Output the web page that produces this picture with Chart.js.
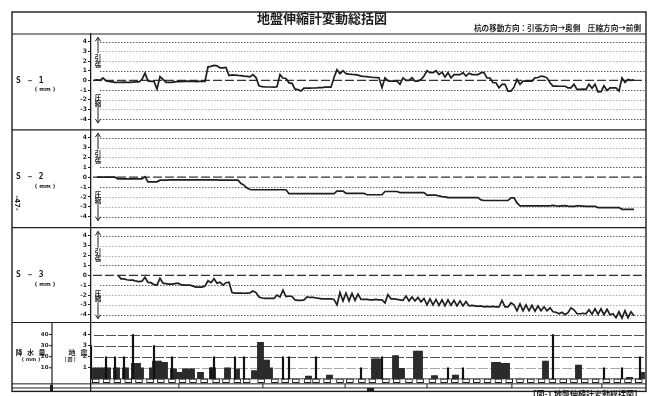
<!DOCTYPE html>
<html>
<head>
<meta charset="utf-8">
<script src="https://cdn.jsdelivr.net/npm/chart.js@4.4.1/dist/chart.umd.min.js"></script>
<style>
  html, body { margin: 0; padding: 0; background: #fff; }
  #wrap { position: relative; width: 651px; height: 396px; }
  canvas { display: block; }
</style>
</head>
<body>
<div id="wrap"><canvas id="c" width="651" height="396"></canvas></div>
<script>
// ---- observation days (x axis, one sample per day) ----
const DAY_COUNT = 185;
const DAYS = Array.from({ length: DAY_COUNT }, (_, i) => i);

// ---- tick labels ----
const S_TICKS = [4, 3, 2, 1, 0, -1, -2, -3, -4];
const QUAKE_TICKS = [4, 3, 2, 1];
const RAIN_TICKS = [40, 30, 20, 10];

// ---- extensometer S-1 (mm) ----
const S1 = [
  null, 0, 0.05, 0, 0.25, -0.05, -0.1, -0.15, -0.2, -0.2,
  -0.2, -0.18, -0.2, -0.2, -0.17, -0.15, -0.15, 0.1, 0.75, -0.05,
  -0.1, -0.1, -0.9, 0.4, 0.1, -0.2, -0.2, -0.2, -0.15, -0.1,
  -0.12, -0.1, -0.08, -0.1, -0.1, -0.12, -0.1, -0.1, -0.1, 1.4,
  1.45, 1.55, 1.5, 1.3, 1.3, 1.35, 0.5, 0.58, 0.55, 0.52,
  0.5, 0.45, 0.42, 0.38, 0.6, 0.3, -0.55, -0.65, -0.68, -0.68,
  -0.68, -0.7, -0.65, 0.6, 0.25, 0.2, -0.25, -0.3, -0.9, -0.95,
  -1.1, -0.8, -0.8, -0.8, -0.78, -0.78, -0.75, -0.75, -0.7, -0.7,
  -0.7, 0.3, 1.1, 0.7, 1.0, 0.7, 0.65, 0.62, 0.6, 0.55,
  0.45, 0.42, 0.4, 0.35, 0.3, 0.3, 0.27, -0.75, 0.27, -0.05,
  -0.07, -0.07, -0.07, -0.4, 0.27, 0, 0, 0.27, -0.07, -0.07,
  0.1, 0.45, 1.0, 0.8, 0.8, 1.0, 0.6, 0.85, 0.35, 0.8,
  0.27, 0.6, 0.6, 0.6, 0.8, 0.45, 0.75, 0.6, 0.6, 0.6,
  0.8, 0.8, 0.27, 0.25, -0.24, -0.24, -0.76, -0.4, -0.4, -1.1,
  -1.1, -0.7, 0.1, -0.4, -0.07, -0.07, -0.07, -0.07, 0.27, 0.3,
  0.45, 0.4, 0.27, -0.24, -0.58, -0.58, -0.6, -0.6, -0.6, -0.76,
  -0.76, -0.4, -0.93, -0.93, -0.9, -0.93, -0.4, -0.82, -0.4, -1.17,
  -1.15, -0.55, -1.03, -0.76, -0.76, -0.76, -1.1, 0.27, -0.2, 0.1,
  0, 0.05, null, null, null
];

// ---- extensometer S-2 (mm) ----
const S2 = [
  null, null, 0, 0, 0, 0, 0, 0, 0, -0.18,
  -0.18, -0.18, -0.18, -0.18, -0.18, -0.18, -0.18, -0.18, 0.05, -0.47,
  -0.47, -0.47, -0.47, -0.3, -0.29, -0.29, -0.28, -0.28, -0.28, -0.28,
  -0.28, -0.28, -0.27, -0.27, -0.27, -0.28, -0.28, -0.28, -0.28, -0.28,
  -0.28, -0.28, -0.28, -0.29, -0.29, -0.29, -0.29, -0.29, -0.3, -0.3,
  -0.65, -0.8, -1.1, -1.25, -1.27, -1.27, -1.27, -1.27, -1.27, -1.27,
  -1.27, -1.27, -1.27, -1.27, -1.27, -1.27, -1.67, -1.67, -1.67, -1.67,
  -1.67, -1.67, -1.67, -1.67, -1.67, -1.67, -1.67, -1.67, -1.67, -1.67,
  -1.67, -1.67, -1.41, -1.41, -1.41, -1.63, -1.63, -1.63, -1.63, -1.63,
  -1.63, -1.63, -1.78, -1.78, -1.78, -1.78, -1.78, -1.78, -1.45, -1.45,
  -1.45, -1.45, -1.45, -1.56, -1.56, -1.56, -1.56, -1.56, -1.56, -1.56,
  -1.56, -1.56, -1.81, -1.81, -1.81, -1.81, -1.9, -1.96, -2.0, -2.07,
  -2.07, -2.07, -2.07, -2.07, -2.07, -2.07, -2.07, -2.07, -2.07, -2.07,
  -2.3, -2.36, -2.36, -2.36, -2.36, -2.36, -2.36, -2.36, -2.36, -2.36,
  -2.1, -2.1, -2.6, -2.9, -2.9, -2.9, -2.9, -2.9, -2.9, -2.9,
  -2.9, -2.9, -2.9, -2.9, -2.85, -2.9, -2.92, -2.9, -2.88, -2.92,
  -2.95, -2.95, -2.9, -2.9, -2.92, -2.95, -2.95, -2.95, -2.95, -3.08,
  -3.08, -3.08, -3.08, -3.08, -3.08, -3.08, -3.08, -3.25, -3.25, -3.25,
  -3.25, -3.25, null, null, null
];

// ---- extensometer S-3 (mm) ----
const S3 = [
  null, null, null, null, null, null, null, null, null, 0,
  -0.36, -0.36, -0.45, -0.5, -0.5, -0.6, -0.65, -0.6, -0.2, -0.72,
  -0.75, -0.95, -1.0, -0.3, -0.8, -0.85, -0.9, -0.9, -0.85, -0.8,
  -0.95, -1.0, -1.0, -1.0, -1.1, -1.2, -1.2, -1.2, -1.1, -0.55,
  -0.75, -0.35, -0.8, -0.7, -1.0, -0.75, -0.7, -1.75, -1.8, -1.8,
  -1.8, -1.82, -1.8, -1.78, -1.6, -1.75, -2.2, -2.3, -2.35, -2.35,
  -2.35, -2.35, -2.0, -2.2, -1.5, -2.15, -2.1, -2.15, -2.5, -2.55,
  -2.55, -2.5, -2.2, -2.25, -2.25, -2.3, -2.35, -2.4, -2.4, -2.4,
  -2.4, -2.45, -3.0, -1.75, -2.6, -1.8, -2.6, -1.85, -2.55, -1.9,
  -2.45, -2.45, -2.45, -2.5, -2.5, -2.45, -2.5, -2.5, -2.8, -1.95,
  -2.4, -2.4, -2.45, -2.5, -2.55, -2.1, -2.6, -2.2, -2.6, -2.25,
  -2.7, -2.35, -3.0, -2.4, -3.0, -2.45, -3.05, -2.5, -3.1, -2.5,
  -3.05, -2.55, -3.1, -2.6, -3.1, -2.65, -3.1, -3.05, -3.1, -3.15,
  -3.1, -3.2, -3.15, -3.2, -3.15, -3.2, -3.2, -2.55, -3.2, -3.2,
  -2.8, -3.0, -3.6, -2.9, -3.6, -3.0, -3.6, -3.05, -3.65, -3.1,
  -3.6, -3.2, -3.6, -3.3, -3.7, -3.75, -3.9, -3.75, -4.0, -3.8,
  -3.3, -3.5, -3.9, -3.9, -3.85, -3.9, -3.5, -3.95, -3.4, -3.95,
  -3.4, -4.0, -3.45, -4.0, -3.9, -4.3, -3.7, -4.35, -3.6, -4.3,
  -3.7, -4.1, null, null, null
];

// ---- daily precipitation (mm) ----
const RAIN = [
  0, 10, 10, 10, 10, 10, 10, 0, 10, 10,
  0, 10, 10, 0, 14, 14, 14, 10, 0, 0,
  10, 16, 16, 16, 15, 15, 0, 9, 9, 6,
  6, 9, 9, 9, 9, 0, 6, 6, 0, 0,
  10, 10, 0, 0, 0, 10, 10, 0, 0, 9,
  0, 0, 0, 0, 7.5, 7.5, 33, 33, 17, 17,
  10, 0, 0, 0, 0, 0, 0, 0, 0, 0,
  0, 0, 2.5, 2.5, 0, 0, 0, 0, 0, 3.5,
  3.5, 0, 0, 0, 0, 0, 0, 0, 0, 0,
  0, 0, 0, 0, 18, 18, 18, 0, 0, 0,
  0, 21, 21, 9.5, 9.5, 0, 0, 0, 25, 25,
  25, 0, 0, 0, 3, 3, 0, 0, 0, 0,
  0, 3.5, 3.5, 0, 0, 0, 0, 0, 0, 0,
  0, 0, 0, 0, 15, 15, 15, 14, 14, 14,
  0, 0, 0, 0, 0, 0, 0, 0, 0, 0,
  0, 16, 16, 0, 0, 0, 0, 0, 0, 0,
  0, 0, 12.5, 12.5, 0, 0, 0, 0, 0, 0,
  0, 0, 0, 0, 0, 0, 0, 0, 0, 1.5,
  1.5, 0, 0, 0, 6
];

// ---- felt earthquakes (count per day) ----
const QUAKE_DAYS = [0, 5, 8, 11, 14, 21, 27, 40, 41, 48, 51, 64, 66, 75, 90, 97, 119, 124, 154, 171, 177, 183];
const QUAKES     = [3, 2, 2, 2, 4, 3, 2, 1, 2, 2, 2, 2, 2, 2, 1, 2, 1, 1, 4, 1, 1, 2];

// ---- calendar strip boxes under the baseline (day centres) ----
const STRIP_DAYS = [
  1.6, 5.2, 8.8, 12.4, 16, 19.7, 23.3, 27, 30.5, 34, 37.7, 41.7, 45, 48.8, 51.9,
  56.7, 61.3, 64.7, 68.3, 72.2, 75, 78.7, 83, 86.3, 90.3, 93.8, 98.3, 101.9, 106,
  109.7, 113.8, 117.7, 121.3, 125, 128.6, 132.2, 135.8, 139.4, 143, 146.6, 150.2,
  153.8, 157.4, 161, 164.6, 168.2, 171.8, 175.4, 179, 182.6
];
// month boundaries marked on the bottom rule
const MONTH_DAYS = [29.3, 57.3, 84.7, 112, 140.3, 170.3];

// ---- text ----
const TITLE = '地盤伸縮計変動総括図';
const NOTE = '杭の移動方向：引張方向→奥側　圧縮方向→前側';
const PANEL_NAMES = ['S－1', 'S－2', 'S－3'];
const CAPTION = '【図-1 地盤伸縮計変動総括図】';

const pts = vals => DAYS.map((d, i) => ({ x: d, y: vals[i] }));
const INK = '#1e1e1e';
const CJK = "'Noto Sans CJK JP', 'Noto Sans', sans-serif";

function panelAxis(min, max, stackWeight, weight) {
  return {
    type: 'linear', position: 'left', stack: 'panels', stackWeight, weight,
    min, max,
    afterBuildTicks: s => { s.ticks = S_TICKS.map(v => ({ value: v })); },
    afterFit: s => { s.width = 91; },
    grid: { drawOnChartArea: false, drawTicks: true, tickLength: 3, tickColor: INK, tickWidth: 1 },
    border: { display: true, color: INK, width: 1.3 },
    ticks: { autoSkip: false, padding: 1, color: INK,
             font: { family: 'DejaVu Sans', size: 6, weight: 'bold' },
             callback: v => String(v) }
  };
}

function line(ctx, x1, y1, x2, y2) {
  ctx.beginPath(); ctx.moveTo(x1, y1); ctx.lineTo(x2, y2); ctx.stroke();
}

function arrow(ctx, x, yTail, yHead) {
  const dir = yHead < yTail ? -1 : 1;
  line(ctx, x, yTail, x, yHead);
  ctx.beginPath();
  ctx.moveTo(x - 2.6, yHead - dir * 4);
  ctx.lineTo(x, yHead);
  ctx.lineTo(x + 2.6, yHead - dir * 4);
  ctx.stroke();
}

const sheet = {
  id: 'sheet',
  beforeDatasetsDraw(chart) {
    const { ctx, chartArea: a, scales } = chart;
    ctx.save();
    ['y1', 'y2', 'y3'].forEach(id => {
      const s = scales[id];
      S_TICKS.forEach(v => {
        if (v === 0) return;
        const y = Math.round(s.getPixelForValue(v)) + 0.5;
        const faint = Math.abs(v) === 2 || Math.abs(v) === 3;
        ctx.strokeStyle = faint ? 'rgba(70,70,70,0.45)' : 'rgba(40,40,40,0.75)';
        ctx.lineWidth = 1;
        ctx.setLineDash([1.5, 1.5]);
        line(ctx, a.left + 9, y, a.right, y);
      });
      const y0 = s.getPixelForValue(0);
      ctx.strokeStyle = '#333';
      ctx.lineWidth = 1.3;
      ctx.setLineDash([9, 3]);
      line(ctx, a.left + 2, y0, a.right, y0);
    });
    const q = scales.y4;
    QUAKE_TICKS.forEach(v => {
      const y = Math.round(q.getPixelForValue(v)) + 0.5;
      ctx.strokeStyle = v === 1 ? 'rgba(60,60,60,0.45)' : 'rgba(40,40,40,0.8)';
      ctx.lineWidth = 1;
      ctx.setLineDash([10, 2]);
      line(ctx, a.left + 3, y, a.right, y);
    });
    ctx.restore();
  },
  afterDraw(chart) {
    const { ctx, chartArea: a, scales } = chart;
    const L = 12, R = a.right, T = 12;
    const q = scales.y4, rain = scales.yP, xs = scales.x;
    ctx.save();
    ctx.setLineDash([]);
    ctx.strokeStyle = INK;
    ctx.fillStyle = INK;

    // frame, header rule and panel separators
    ctx.lineWidth = 1.4;
    ctx.strokeRect(L, T, R - L, a.bottom - T);
    ctx.lineWidth = 1.2;
    [a.top, scales.y1.bottom, scales.y2.bottom, scales.y3.bottom].forEach(y => line(ctx, L, y, R, y));
    line(ctx, 52, q.top, 52, a.bottom);

    // rules under the calendar strip
    const r1 = q.getPixelForValue(-0.45), r2 = q.getPixelForValue(-0.82);
    ctx.lineWidth = 1;
    line(ctx, L, r1, R, r1);
    line(ctx, L, r2, R, r2);
    MONTH_DAYS.forEach(d => {
      const x = xs.getPixelForValue(d);
      line(ctx, x, r1, x, r2);
    });
    ctx.fillRect(xs.getPixelForValue(92), r2, 7, a.bottom - r2);
    ctx.fillRect(50, r1 + 1, 3, a.bottom - r1 - 1);

    // title and direction note
    ctx.textBaseline = 'middle';
    ctx.textAlign = 'center';
    ctx.font = `bold 13px ${CJK}`;
    ctx.fillText(TITLE, 322, 18);
    ctx.textAlign = 'right';
    ctx.font = `bold 7.6px ${CJK}`;
    ctx.fillText(NOTE, 641, 28);

    // panel names and units
    ['y1', 'y2', 'y3'].forEach((id, k) => {
      const s = scales[id];
      const y0 = s.getPixelForValue(0);
      ctx.textAlign = 'left';
      ctx.font = "bold 8px 'DejaVu Sans Mono', monospace";
      ctx.letterSpacing = '5px';
      ctx.fillText(PANEL_NAMES[k], 16, y0);
      ctx.letterSpacing = '0px';
      ctx.textAlign = 'center';
      ctx.font = "bold 5.5px 'DejaVu Sans', sans-serif";
      ctx.fillText('( mm )', 45, y0 + 9);

      // tension / compression arrows
      const ax = a.left + 7;
      ctx.lineWidth = 1;
      arrow(ctx, ax, s.getPixelForValue(2.8), s.getPixelForValue(4.45));
      arrow(ctx, ax, s.getPixelForValue(-2.75), s.getPixelForValue(-4.4));
      ctx.font = `bold 6.5px ${CJK}`;
      ctx.fillText('引', ax, s.getPixelForValue(2.4));
      ctx.fillText('張', ax, s.getPixelForValue(1.65));
      ctx.fillText('圧', ax, s.getPixelForValue(-1.8));
      ctx.fillText('縮', ax, s.getPixelForValue(-2.4));
    });

    // rain / quake labels
    const yl = q.getPixelForValue(2.4);
    ctx.font = `bold 7px ${CJK}`;
    ctx.textAlign = 'center';
    ['降', '水', '量'].forEach((c, i) => ctx.fillText(c, 19 + i * 11.5, yl));
    ctx.fillText('地', 72, yl);
    ctx.fillText('震', 84, yl);
    ctx.font = "bold 5px 'DejaVu Sans', sans-serif";
    ctx.fillText('( mm )', 31, yl + 7);
    ctx.font = `bold 5px ${CJK}`;
    ctx.fillText('( 回 )', 70, yl + 7);
    ctx.textAlign = 'right';
    ctx.font = "bold 5.5px 'DejaVu Sans', sans-serif";
    RAIN_TICKS.forEach(v => {
      const y = rain.getPixelForValue(v);
      ctx.fillText(String(v), 48.5, y);
      line(ctx, 49, y, 52, y);
    });

    // page number in the margin
    ctx.save();
    ctx.translate(17, 203);
    ctx.rotate(Math.PI / 2);
    ctx.textAlign = 'center';
    ctx.font = "bold 7px 'DejaVu Sans', sans-serif";
    ctx.fillText('-47-', 0, 0);
    ctx.restore();

    // caption at the foot of the sheet
    ctx.textAlign = 'right';
    ctx.textBaseline = 'top';
    ctx.font = `bold 8px ${CJK}`;
    ctx.fillText(CAPTION, 642, a.bottom - 1);
    ctx.restore();
  }
};

const lineStyle = { borderColor: INK, borderWidth: 1.7, pointRadius: 0, tension: 0, spanGaps: false, fill: false };

new Chart(document.getElementById('c'), {
  type: 'line',
  data: {
    datasets: [
      { label: 'S-1', data: pts(S1), yAxisID: 'y1', ...lineStyle },
      { label: 'S-2', data: pts(S2), yAxisID: 'y2', ...lineStyle },
      { label: 'S-3', data: pts(S3), yAxisID: 'y3', ...lineStyle },
      { type: 'bar', label: '地震', yAxisID: 'y4', grouped: false,
        data: QUAKE_DAYS.map((d, i) => ({ x: d, y: QUAKES[i] })),
        backgroundColor: '#111', barThickness: 1.5 },
      { type: 'bar', label: '降水量', yAxisID: 'yP', grouped: false,
        data: pts(RAIN), backgroundColor: '#2b2b2b', barThickness: 3.2 },
      { type: 'bar', label: 'calendar', yAxisID: 'y4', grouped: false,
        data: STRIP_DAYS.map(d => ({ x: d, y: [-0.35, 0] })),
        backgroundColor: '#fff', borderColor: INK, borderWidth: 1, borderSkipped: false,
        barThickness: 7 }
    ]
  },
  options: {
    responsive: false,
    devicePixelRatio: 1,
    animation: false,
    events: [],
    layout: { padding: { top: 34, right: 5, bottom: 4, left: 0 } },
    plugins: { legend: { display: false }, tooltip: { enabled: false }, title: { display: false } },
    scales: {
      x: { type: 'linear', min: 0, max: DAY_COUNT, offset: false, display: false },
      y1: panelAxis(-5.103, 4.794, 96, 4),
      y2: panelAxis(-5.11, 4.79, 98, 3),
      y3: panelAxis(-4.79, 4.83, 95, 2),
      y4: { ...panelAxis(-1.13, 5.09, 69, 1),
            afterBuildTicks: s => { s.ticks = QUAKE_TICKS.map(v => ({ value: v })); } },
      yP: { type: 'linear', position: 'right', display: false, min: -11.3, max: 311.3 }
    }
  },
  plugins: [sheet]
});
</script>
</body>
</html>
